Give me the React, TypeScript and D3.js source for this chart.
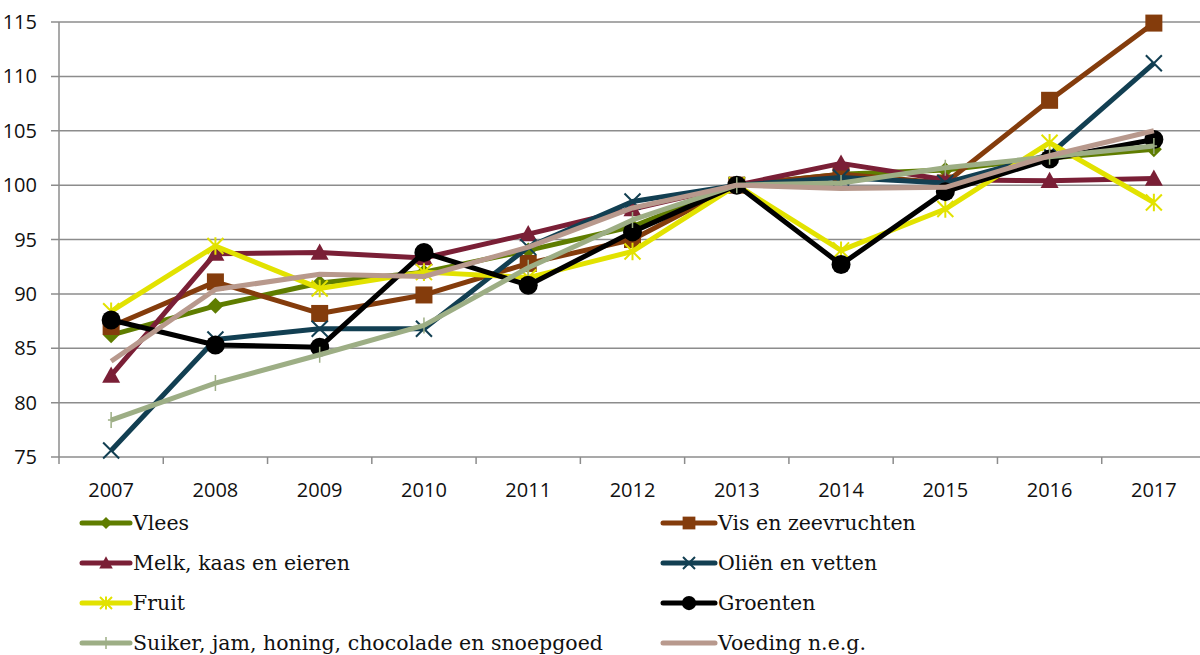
import React from "react";
import * as d3 from "d3";

const years = ["2007","2008","2009","2010","2011","2012","2013","2014","2015","2016","2017"];
const yTicks = [75, 80, 85, 90, 95, 100, 105, 110, 115];

const vlees = [86.2, 88.9, 91.0, 92.0, 94.0, 96.2, 100, 101.0, 101.4, 102.5, 103.3];
const vis = [87.0, 91.1, 88.2, 89.9, 92.8, 95.0, 100, 101.0, 100.2, 107.8, 114.9];
const melk = [82.5, 93.7, 93.8, 93.3, 95.5, 97.8, 100, 102.0, 100.5, 100.4, 100.6];
const olien = [75.6, 85.8, 86.8, 86.8, 94.3, 98.5, 100, 100.7, 100.2, 102.8, 111.2];
const fruit = [88.4, 94.4, 90.5, 92.0, 91.5, 93.9, 100, 94.0, 97.8, 103.9, 98.4];
const groenten = [87.6, 85.3, 85.1, 93.8, 90.8, 95.7, 100, 92.7, 99.4, 102.4, 104.2];
const suiker = [78.4, 81.8, 84.4, 87.1, 92.4, 96.8, 100, 100.2, 101.6, 102.6, 103.6];
const voeding = [83.8, 90.4, 91.8, 91.6, 94.3, 97.9, 100, 99.7, 99.8, 102.7, 105.0];

const seriesNames = [
  "Vlees", "Vis en zeevruchten", "Melk, kaas en eieren", "Oliën en vetten",
  "Fruit", "Groenten", "Suiker, jam, honing, chocolade en snoepgoed", "Voeding n.e.g."
];
const seriesValues = [vlees, vis, melk, olien, fruit, groenten, suiker, voeding];
const seriesColors = ["#5f7d00", "#843c0c", "#7a1f36", "#123f52", "#e2e200", "#000000", "#9dae85", "#b8998d"];
const seriesMarkers = ["diamond", "square", "triangle", "x", "asterisk", "circle", "plus", "none"];

const W = 1200, H = 655;
const M = { left: 59, right: 1206, top: 22, bottom: 457 };

function Marker({ type, x, y, color, s = 1 }: { type: string; x: number; y: number; color: string; s?: number }) {
  switch (type) {
    case "diamond": {
      const r = 8 * s;
      return <path d={`M${x},${y - r}L${x + r},${y}L${x},${y + r}L${x - r},${y}Z`} fill={color} />;
    }
    case "square": {
      const r = 8.5 * s;
      return <rect x={x - r} y={y - r} width={2 * r} height={2 * r} fill={color} />;
    }
    case "triangle": {
      const r = 9 * s;
      return <path d={`M${x},${y - r}L${x + r},${y + r * 0.8}L${x - r},${y + r * 0.8}Z`} fill={color} />;
    }
    case "circle":
      return <circle cx={x} cy={y} r={9.5 * s} fill={color} />;
    case "x": {
      const r = 8 * s;
      return <path d={`M${x - r},${y - r}L${x + r},${y + r}M${x - r},${y + r}L${x + r},${y - r}`} stroke={color} strokeWidth={2} />;
    }
    case "asterisk": {
      const r = 8 * s;
      return <path d={`M${x - r},${y - r}L${x + r},${y + r}M${x - r},${y + r}L${x + r},${y - r}M${x},${y - r * 1.1}L${x},${y + r * 1.1}`} stroke={color} strokeWidth={2} />;
    }
    case "plus": {
      const r = 8 * s;
      return <path d={`M${x},${y - r}L${x},${y + r}M${x - r * 0.4},${y}L${x + r * 0.4},${y}`} stroke={color} strokeWidth={1.5} />;
    }
    default:
      return null;
  }
}

export default function App() {
  const x = d3.scaleBand<string>().domain(years).range([M.left, M.right]);
  const y = d3.scaleLinear().domain([75, 115]).range([M.bottom, M.top]);
  const line = d3.line<number>()
    .x((_, i) => (x(years[i]) as number) + x.bandwidth() / 2)
    .y((d) => y(d));
  const axisFont = "'Open Sans', sans-serif";
  const legFont = "'DejaVu Serif', serif";
  const bounds = years.map((yr) => x(yr) as number).concat([M.right]);

  return (
    <div style={{ position: "absolute", left: 0, top: 0 }}>
      <svg width={W} height={H} style={{ display: "block" }}>
        <rect width={W} height={H} fill="#fff" />
        {yTicks.map((t) => (
          <g key={t}>
            <line x1={M.left - 8} x2={W} y1={y(t)} y2={y(t)} stroke="#8c8c8c" strokeWidth={1.5} />
            <text x={37} y={y(t) + 7} textAnchor="end" fontFamily={axisFont} fontSize={20} fill="#111">{t}</text>
          </g>
        ))}
        <line x1={M.left} x2={M.left} y1={M.top} y2={M.bottom} stroke="#8c8c8c" strokeWidth={1.5} />
        {bounds.map((b, i) => (
          <line key={i} x1={b} x2={b} y1={M.bottom} y2={M.bottom + 7} stroke="#8c8c8c" strokeWidth={1.5} />
        ))}
        {years.map((yr) => (
          <text key={yr} x={(x(yr) as number) + x.bandwidth() / 2} y={497} textAnchor="middle" fontFamily={axisFont} fontSize={20} fill="#111">{yr}</text>
        ))}
        {seriesValues.map((vals, si) => (
          <g key={si}>
            <path d={line(vals) || ""} fill="none" stroke={seriesColors[si]} strokeWidth={5} strokeLinejoin="round" />
            {vals.map((v, i) => (
              <Marker key={i} type={seriesMarkers[si]} x={(x(years[i]) as number) + x.bandwidth() / 2} y={y(v)} color={seriesColors[si]} />
            ))}
          </g>
        ))}
        {seriesNames.map((name, si) => {
          const col = si % 2;
          const row = Math.floor(si / 2);
          const sx = col === 0 ? 82 : 663;
          const sw = col === 0 ? 48 : 52;
          const ly = 523 + row * 40;
          return (
            <g key={name}>
              <line x1={sx} x2={sx + sw} y1={ly} y2={ly} stroke={seriesColors[si]} strokeWidth={5} strokeLinecap="round" />
              <Marker type={seriesMarkers[si]} x={sx + sw / 2} y={ly} color={seriesColors[si]} s={0.75} />
              <text x={sx + sw + 3} y={ly + 7} fontFamily={legFont} fontSize={20.5} fill="#111">{name}</text>
            </g>
          );
        })}
      </svg>
    </div>
  );
}
